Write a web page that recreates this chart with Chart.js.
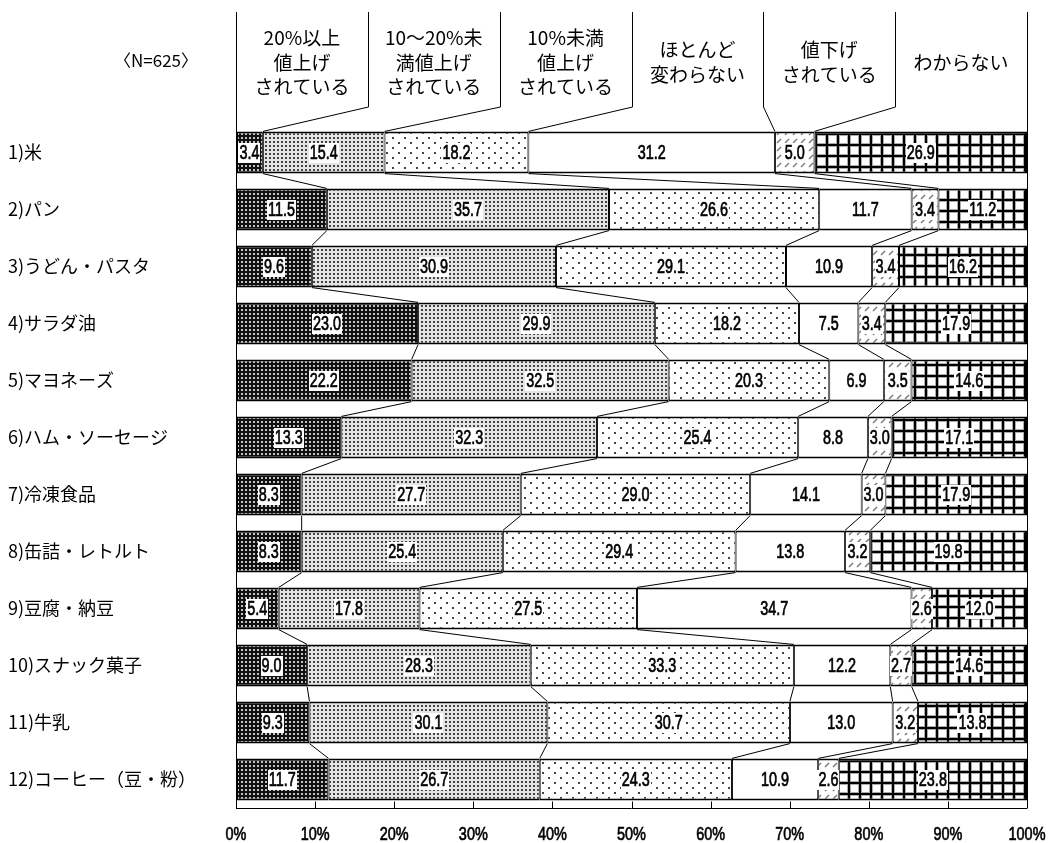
<!DOCTYPE html>
<html>
<head>
<meta charset="utf-8">
<script src="https://cdn.jsdelivr.net/npm/chart.js@4.4.1/dist/chart.umd.min.js"></script>
<style>
  html, body { margin: 0; padding: 0; background: #fff; }
  canvas { display: block; }
</style>
</head>
<body>
<canvas id="chart" width="1050" height="843"></canvas>
<script>
// categories (top to bottom)
const categories = [
  '1)米', '2)パン', '3)うどん・パスタ', '4)サラダ油', '5)マヨネーズ',
  '6)ハム・ソーセージ', '7)冷凍食品', '8)缶詰・レトルト', '9)豆腐・納豆',
  '10)スナック菓子', '11)牛乳', '12)コーヒー（豆・粉）'
];

// series names, split into header lines
const seriesNames = [
  ['20%以上', '値上げ', 'されている'],
  ['10～20%未', '満値上げ', 'されている'],
  ['10%未満', '値上げ', 'されている'],
  ['ほとんど', '変わらない'],
  ['値下げ', 'されている'],
  ['わからない']
];

// values (%) per series, one per category
const up20      = [3.4, 11.5, 9.6, 23.0, 22.2, 13.3, 8.3, 8.3, 5.4, 9.0, 9.3, 11.7];
const up10to20  = [15.4, 35.7, 30.9, 29.9, 32.5, 32.3, 27.7, 25.4, 17.8, 28.3, 30.1, 26.7];
const upUnder10 = [18.2, 26.6, 29.1, 18.2, 20.3, 25.4, 29.0, 29.4, 27.5, 33.3, 30.7, 24.3];
const noChange  = [31.2, 11.7, 10.9, 7.5, 6.9, 8.8, 14.1, 13.8, 34.7, 12.2, 13.0, 10.9];
const down      = [5.0, 3.4, 3.4, 3.4, 3.5, 3.0, 3.0, 3.2, 2.6, 2.7, 3.2, 2.6];
const unknown   = [26.9, 11.2, 16.2, 17.9, 14.6, 17.1, 17.9, 19.8, 12.0, 14.6, 13.8, 23.8];

const sampleNote = '〈N=625〉';
const xTickStep = 10; // 0%..100%

const series = [up20, up10to20, upUnder10, noChange, down, unknown];

// 100% stacked: scale each row to its total
const rowTotals = categories.map((_, i) => series.reduce((s, arr) => s + arr[i], 0));

const canvas = document.getElementById('chart');
const ctx = canvas.getContext('2d');

function makePattern(w, h, draw) {
  const c = document.createElement('canvas');
  c.width = w; c.height = h;
  const g = c.getContext('2d');
  draw(g);
  return ctx.createPattern(c, 'repeat');
}

const patterns = [
  makePattern(4, 4, g => {
    g.fillStyle = '#111'; g.fillRect(0, 0, 4, 4);
    g.fillStyle = '#c4c4c4'; g.fillRect(1, 1, 2, 2);
  }),
  makePattern(4, 4, g => {
    g.fillStyle = '#e4e4e4'; g.fillRect(0, 0, 4, 4);
    g.fillStyle = '#444'; g.fillRect(1, 1, 2, 2);
  }),
  makePattern(12, 10, g => {
    g.fillStyle = '#fff'; g.fillRect(0, 0, 12, 10);
    g.fillStyle = '#444';
    g.fillRect(2, 2, 2, 2);
    g.fillRect(8, 7, 2, 2);
  }),
  '#ffffff',
  makePattern(8, 8, g => {
    g.fillStyle = '#fff'; g.fillRect(0, 0, 8, 8);
    g.strokeStyle = '#777'; g.lineWidth = 1.5;
    g.beginPath(); g.moveTo(1, 7); g.lineTo(5, 3); g.stroke();
  }),
  makePattern(11, 11, g => {
    g.fillStyle = '#fff'; g.fillRect(0, 0, 11, 11);
    g.fillStyle = '#aaa';
    g.fillRect(0, 0, 4, 11); g.fillRect(0, 0, 11, 4);
    g.fillStyle = '#000';
    g.fillRect(1, 0, 2, 11); g.fillRect(0, 1, 11, 2);
  })
];

Chart.defaults.font.family = '"Noto Sans CJK JP", "Noto Sans", sans-serif';
Chart.defaults.color = '#000';

const datasets = series.map((arr, k) => ({
  label: seriesNames[k].join(''),
  data: arr.map((v, i) => v / rowTotals[i] * 100),
  raw: arr,
  backgroundColor: patterns[k],
  borderColor: '#000',
  borderWidth: { top: 2, bottom: 2, left: k === 0 ? 2 : 1, right: k === series.length - 1 ? 2 : 1 },
  borderSkipped: false,
  barPercentage: 0.74,
  categoryPercentage: 1.0
}));

// narrow digits, like the original
const numFont = '"Liberation Sans", Arial, sans-serif';
function narrowText(c, txt, x, y, squeeze) {
  c.save();
  c.translate(x, y);
  c.scale(squeeze, 1);
  c.lineWidth = 0.7;
  c.strokeStyle = '#000';
  c.fillText(txt, 0, 0);
  c.strokeText(txt, 0, 0);
  c.restore();
}

// thin lines joining segment boundaries of neighbouring bars
const seriesLines = {
  id: 'seriesLines',
  beforeDatasetsDraw(chart) {
    const c = chart.ctx;
    c.save();
    c.strokeStyle = '#000';
    c.lineWidth = 1;
    for (let k = 0; k < series.length - 1; k++) {
      const els = chart.getDatasetMeta(k).data;
      for (let i = 0; i < els.length - 1; i++) {
        const a = els[i], b = els[i + 1];
        c.beginPath();
        c.moveTo(a.x, a.y + a.height / 2);
        c.lineTo(b.x, b.y - b.height / 2);
        c.stroke();
      }
    }
    c.restore();
  }
};

// value labels with white boxes
const valueLabels = {
  id: 'valueLabels',
  afterDatasetsDraw(chart) {
    const c = chart.ctx;
    const sq = 0.72;
    c.save();
    c.font = '20px ' + numFont;
    c.textAlign = 'center';
    c.textBaseline = 'middle';
    chart.data.datasets.forEach((ds, k) => {
      chart.getDatasetMeta(k).data.forEach((el, i) => {
        const txt = ds.raw[i].toFixed(1);
        const cx = (el.x + el.base) / 2;
        const w = c.measureText(txt).width * sq + 2;
        if (k !== 3) {
          c.fillStyle = '#fff';
          c.fillRect(Math.round(cx - w / 2), Math.round(el.y - 10), Math.round(w), 20);
        }
        c.fillStyle = '#000';
        narrowText(c, txt, cx, el.y + 1, sq);
      });
    });
    c.restore();
  }
};

// header boxes, frame, axis ticks and labels, N note
const frame = {
  id: 'frame',
  afterDraw(chart) {
    const c = chart.ctx;
    const a = chart.chartArea;
    const n = seriesNames.length;
    const colW = (a.right - a.left) / n;
    const topY = 12, elbowY = 107;
    const first = chart.getDatasetMeta(0).data[0];
    const barTop = first.y - first.height / 2;
    c.save();
    c.strokeStyle = '#000';
    c.lineWidth = 1;
    for (let j = 0; j <= n; j++) {
      const hx = Math.round(a.left + j * colW) + 0.5;
      c.beginPath();
      c.moveTo(hx, topY);
      if (j === 0 || j === n) {
        c.lineTo(hx, a.bottom);
      } else {
        const bx = chart.getDatasetMeta(j - 1).data[0].x;
        c.lineTo(hx, elbowY);
        c.lineTo(bx, barTop);
      }
      c.stroke();
    }
    // bottom axis line, inward ticks and % labels
    const xs = chart.scales.x;
    const by = Math.round(a.bottom) + 0.5;
    c.beginPath();
    c.moveTo(a.left, by); c.lineTo(a.right, by);
    xs.ticks.forEach(t => {
      const px = Math.round(xs.getPixelForValue(t.value)) + 0.5;
      c.moveTo(px, by); c.lineTo(px, by - 7);
    });
    c.stroke();
    c.fillStyle = '#000';
    c.font = '19px ' + numFont;
    c.textAlign = 'center';
    c.textBaseline = 'middle';
    xs.ticks.forEach(t => {
      narrowText(c, t.value + '%', xs.getPixelForValue(t.value), a.bottom + 27, 0.76);
    });
    // header text
    c.font = '19px "Noto Sans CJK JP", sans-serif';
    const lh = 24.5, cy = 62.5;
    seriesNames.forEach((lines, j) => {
      const cx = a.left + (j + 0.5) * colW;
      const y0 = cy - (lines.length - 1) * lh / 2;
      lines.forEach((ln, r) => c.fillText(ln, cx, y0 + r * lh));
    });
    c.font = '17px "Noto Sans CJK JP", sans-serif';
    c.fillText(sampleNote, 156, 61);
    c.restore();
  }
};

new Chart(ctx, {
  type: 'bar',
  data: { labels: categories, datasets },
  options: {
    indexAxis: 'y',
    responsive: false,
    animation: false,
    layout: { padding: { top: 124, left: 8, right: 23, bottom: 0 } },
    plugins: { legend: { display: false }, tooltip: { enabled: false } },
    scales: {
      x: {
        stacked: true,
        min: 0,
        max: 100,
        ticks: { stepSize: xTickStep, display: false },
        grid: { display: false, drawTicks: false },
        border: { display: false },
        afterFit: s => { s.height = 35; s.paddingLeft = 0; s.paddingRight = 0; }
      },
      y: {
        stacked: true,
        ticks: { crossAlign: 'far', padding: 0, font: { size: 18 } },
        grid: { display: false, drawTicks: false },
        border: { display: false },
        afterFit: s => { s.width = 228; s.paddingTop = 0; s.paddingBottom = 0; }
      }
    }
  },
  plugins: [seriesLines, valueLabels, frame]
});
</script>
</body>
</html>
